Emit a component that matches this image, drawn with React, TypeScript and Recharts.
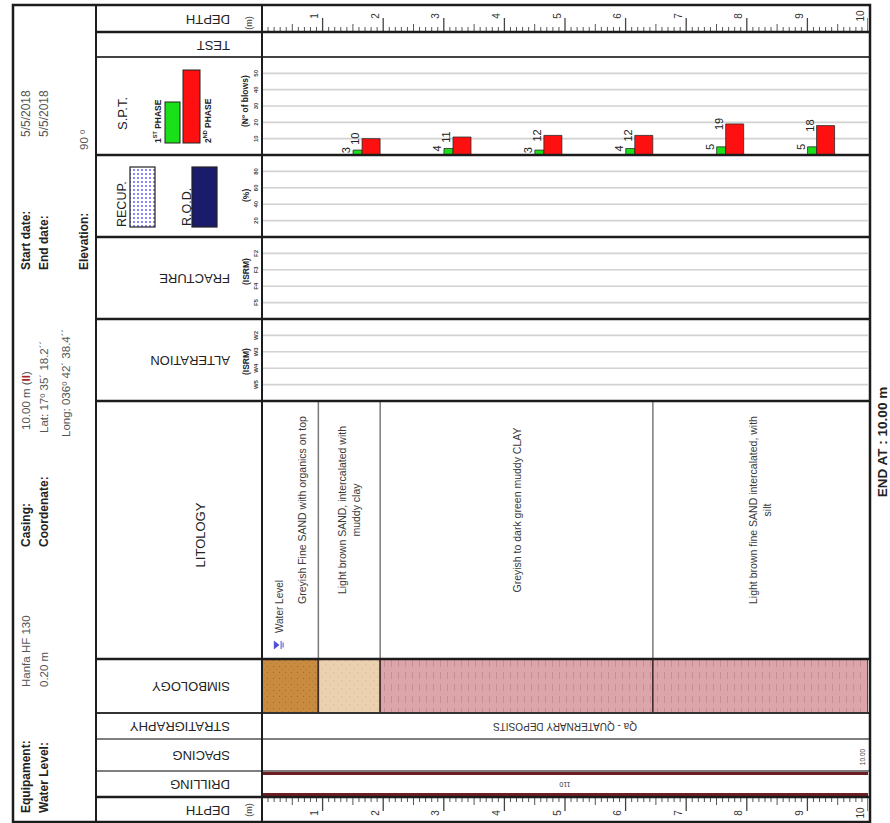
import React from 'react';
import {
  ComposedChart,
  Bar,
  XAxis,
  YAxis,
  CartesianGrid,
  ReferenceArea,
  ReferenceLine,
  LabelList
} from 'recharts';

const FONT = '"Liberation Sans", Arial, Helvetica, sans-serif';

// depth scale (m)
const depthRange = [0, 10];
const depthTicks = Array.from({ length: 101 }, (_, i) => i / 10);

// SPT tests: start depth, blows 1st phase (15 cm), blows 2nd phase (30 cm)
const sptStart = [1.5, 3.0, 4.5, 6.0, 7.5, 9.0];
const sptPhase1 = [3, 4, 3, 4, 5, 5];
const sptPhase2 = [10, 11, 12, 12, 19, 18];
const sptLength = 0.45;
const sptTicks = [10, 20, 30, 40, 50];

const rqdTicks = [20, 40, 60, 80];
const isrmTicks = [1, 2, 3, 4];
const fractureClasses = ['F5', 'F4', 'F3', 'F2'];
const alterationClasses = ['W5', 'W4', 'W3', 'W2'];

// lithology
const layerFrom = [0, 0.93, 1.95, 6.45];
const layerTo = [0.93, 1.95, 6.45, 10];
const layerDescription = [
  ['Greyish Fine SAND with organics on top'],
  ['Light brown SAND, intercalated with', 'muddy clay'],
  ['Greyish to dark green muddy CLAY'],
  ['Light brown fine SAND intercalated, with', 'silt'],
];
const layerSymbol = ['brownSand', 'lightSand', 'clay', 'clay'];

const waterLevel = 0.2;
const stratUnit = 'Qa - QUATERNARY DEPOSITS';
const spacingDepth = 10;
const spacingLabel = '10.00';
const drillFrom = 0;
const drillTo = 10;
const drillDiameter = '110';
const endDepth = 10;

const sptRows = sptStart.map((d, i) => ({
  depth: d + sptLength / 2,
  phase1: sptPhase1[i],
  phase2: sptPhase2[i],
}));

const PX = 262;
const PW = 606;
const AW = 14;
const noMargin = { top: 0, right: 0, bottom: 0, left: 0 };
const layerLabelShift = [12, 0, 0, 0];

const AxisTick = ({ x, y, payload, fmt }: any) => (
  <text
    x={x - 6}
    y={y}
    transform={`rotate(-90 ${x - 6} ${y})`}
    textAnchor="middle"
    dominantBaseline="central"
    fontSize={6}
    fontWeight="bold"
    fill="#444"
    fontFamily={FONT}
  >
    {fmt(payload.value)}
  </text>
);

const DepthTick = ({ x, y, payload, dir }: any) => {
  const k = Math.round(payload.value * 10);
  const major = k % 10 === 0;
  const half = k % 5 === 0;
  const len = major ? 14 : half ? 8 : 5;
  const lx = x - 8;
  const ly = y + dir * 16;
  return (
    <g>
      <line x1={x} x2={x} y1={y} y2={y + dir * len} stroke="#444" strokeWidth={major ? 1.3 : 0.9} />
      {major && k > 0 && (
        <text
          x={lx}
          y={ly}
          transform={`rotate(-90 ${lx} ${ly})`}
          textAnchor="middle"
          dominantBaseline="central"
          fontSize={10}
          fill="#333"
          fontFamily={FONT}
        >
          {k / 10}
        </text>
      )}
    </g>
  );
};

const BarValue = (props: any) => {
  const { x, y, value } = props;
  const cx = x - 7;
  return (
    <text
      x={cx}
      y={y}
      transform={`rotate(-90 ${cx} ${y})`}
      textAnchor="middle"
      dominantBaseline="central"
      fontSize={11}
      fill="#222"
      fontFamily={FONT}
    >
      {value}
    </text>
  );
};

const LayerLabel = ({ viewBox, lines, shift }: any) => {
  const cx = viewBox.x + viewBox.width / 2 + shift;
  const cy = viewBox.y + viewBox.height / 2 - 20;
  return (
    <g>
      {lines.map((t: string, j: number) => {
        const lx = cx + (j - (lines.length - 1) / 2) * 14;
        return (
          <text
            key={j}
            x={lx}
            y={cy}
            transform={`rotate(-90 ${lx} ${cy})`}
            textAnchor="middle"
            dominantBaseline="central"
            fontSize={10.5}
            fill="#3a3a3a"
            fontFamily={FONT}
          >
            {t}
          </text>
        );
      })}
    </g>
  );
};

const WaterLabel = ({ viewBox }: any) => {
  const x = viewBox.x + 5;
  const y = viewBox.y + viewBox.height - 14;
  return (
    <g>
      <g transform={`translate(${x} ${y}) rotate(-90)`} stroke="#4b4bd8" fill="#4b4bd8">
        <polygon points="-4,-5 4,-5 0,0" strokeWidth={0.5} />
        <line x1={-4} x2={4} y1={2} y2={2} strokeWidth={1} />
        <line x1={-2.5} x2={2.5} y1={4} y2={4} strokeWidth={1} />
      </g>
      <text
        x={x}
        y={y - 12}
        transform={`rotate(-90 ${x} ${y - 12})`}
        textAnchor="start"
        dominantBaseline="central"
        fontSize={10}
        fill="#3a3a3a"
        fontFamily={FONT}
      >
        Water Level
      </text>
    </g>
  );
};

const FlipLabel = ({ viewBox, text, size }: any) => {
  const cx = viewBox.x + viewBox.width / 2;
  const cy = viewBox.y + viewBox.height / 2;
  return (
    <text
      x={cx}
      y={cy}
      transform={`rotate(180 ${cx} ${cy})`}
      textAnchor="middle"
      dominantBaseline="central"
      fontSize={size}
      fill="#333"
      fontFamily={FONT}
    >
      {text}
    </text>
  );
};

const SpacingLabel = ({ viewBox }: any) => {
  const x = viewBox.x - 6;
  const y = viewBox.y + viewBox.height / 2 + 2;
  return (
    <text
      x={x}
      y={y}
      transform={`rotate(-90 ${x} ${y})`}
      textAnchor="middle"
      dominantBaseline="central"
      fontSize={6.5}
      fill="#444"
      fontFamily={FONT}
    >
      {spacingLabel}
    </text>
  );
};

type RowProps = {
  top: number;
  height: number;
  yDomain: number[];
  yTicks?: number[];
  tickText?: (v: number) => string;
  children?: React.ReactNode;
};

const Row = ({ top, height, yDomain, yTicks, tickText, children }: RowProps) => (
  <div style={{ position: 'absolute', left: PX - AW, top }}>
    <ComposedChart width={PW + AW} height={height} data={sptRows} margin={noMargin} barGap={0}>
      <XAxis dataKey="depth" type="number" domain={depthRange} hide allowDataOverflow />
      <YAxis
        type="number"
        domain={yDomain}
        ticks={yTicks}
        interval={0}
        width={AW}
        axisLine={false}
        tickLine={false}
        tickSize={0}
        tickMargin={0}
        allowDataOverflow
        tick={tickText ? (p: any) => <AxisTick {...p} fmt={tickText} /> : false}
      />
      {yTicks && <CartesianGrid vertical={false} stroke="#d2d2d2" strokeWidth={1.6} />}
      {children}
    </ComposedChart>
  </div>
);

const DepthRuler = ({ top, side }: { top: number; side: 'top' | 'bottom' }) => (
  <div style={{ position: 'absolute', left: PX, top }}>
    <ComposedChart width={PW} height={27} data={sptRows} margin={noMargin}>
      <XAxis
        dataKey="depth"
        type="number"
        domain={depthRange}
        ticks={depthTicks}
        interval={0}
        orientation={side}
        height={26}
        axisLine={false}
        tickLine={false}
        tickSize={0}
        tickMargin={0}
        allowDataOverflow
        tick={(p: any) => <DepthTick {...p} dir={side === 'top' ? -1 : 1} />}
      />
      <YAxis hide />
    </ComposedChart>
  </div>
);

const PatternDefs = () => (
  <svg width={0} height={0} style={{ position: 'absolute' }}>
    <defs>
      <pattern id="brownSand" width={6} height={6} patternUnits="userSpaceOnUse">
        <rect width={6} height={6} fill="#c98b40" />
        <circle cx={1.5} cy={1.5} r={0.6} fill="#9a6428" />
        <circle cx={4.5} cy={4.5} r={0.6} fill="#b47a34" />
      </pattern>
      <pattern id="lightSand" width={8} height={8} patternUnits="userSpaceOnUse">
        <rect width={8} height={8} fill="#ebd1b0" />
        <line x1={2} x2={2} y1={1} y2={3} stroke="#d3b591" strokeWidth={0.7} />
        <line x1={6} x2={6} y1={5} y2={7} stroke="#d3b591" strokeWidth={0.7} />
      </pattern>
      <pattern id="clay" width={7} height={12} patternUnits="userSpaceOnUse">
        <rect width={7} height={12} fill="#dca5a9" />
        <line x1={3.5} x2={3.5} y1={1} y2={8} stroke="#c28890" strokeWidth={0.8} />
      </pattern>
      <pattern id="recupDots" width={4} height={4} patternUnits="userSpaceOnUse">
        <rect width={4} height={4} fill="#ffffff" />
        <circle cx={2} cy={2} r={0.9} fill="#5050f0" />
      </pattern>
    </defs>
  </svg>
);

const up = (x: number, y: number, t: React.ReactNode, o: any = {}) => (
  <text
    x={x}
    y={y}
    transform={`rotate(-90 ${x} ${y})`}
    textAnchor={o.anchor || 'start'}
    dominantBaseline="central"
    fontSize={o.size || 12}
    fontWeight={o.bold ? 'bold' : 'normal'}
    fill={o.color || '#222'}
  >
    {t}
  </text>
);

const flip = (y: number, t: string) => (
  <text
    x={230}
    y={y}
    transform={`rotate(180 230 ${y})`}
    textAnchor="start"
    dominantBaseline="central"
    fontSize={13}
    fill="#222"
  >
    {t}
  </text>
);

const rowLines: [number, number, string][] = [
  [32, 2.5, '#1c1c1c'],
  [57, 2, '#444'],
  [155, 2.5, '#1c1c1c'],
  [237, 2.5, '#1c1c1c'],
  [319, 2.5, '#1c1c1c'],
  [401, 2.5, '#1c1c1c'],
  [659, 2.5, '#1c1c1c'],
  [713, 2, '#333'],
  [739, 1.5, '#555'],
  [771, 1.5, '#555'],
  [797, 2.5, '#1c1c1c'],
];

const Frame = () => (
  <svg
    width={890}
    height={823}
    style={{ position: 'absolute', left: 0, top: 0, pointerEvents: 'none' }}
    fontFamily={FONT}
  >
    {rowLines.map(([y, w, c]) => (
      <line key={y} x1={96} x2={870} y1={y} y2={y} stroke={c} strokeWidth={w} />
    ))}
    <line x1={96} x2={96} y1={5} y2={822} stroke="#1c1c1c" strokeWidth={2} />
    <line x1={262} x2={262} y1={5} y2={822} stroke="#1c1c1c" strokeWidth={2} />
    <rect x={13} y={5} width={857} height={817} fill="none" stroke="#1c1c1c" strokeWidth={2.5} />

    {/* info panel */}
    {up(26, 813, 'Equipament:', { bold: true })}
    {up(26, 687, 'Hanfa HF 130', { size: 11.5, color: '#555' })}
    {up(26, 547, 'Casing:', { bold: true })}
    {up(26, 430, <>10.00 m (<tspan fill="#a3262a" fontWeight="bold">II</tspan>)</>, { size: 11.5, color: '#555' })}
    {up(26, 270, 'Start date:', { bold: true })}
    {up(26, 137, '5/5/2018', { size: 12, color: '#555' })}
    {up(44, 813, 'Water Level:', { bold: true })}
    {up(44, 687, '0.20 m', { size: 11.5, color: '#555' })}
    {up(44, 547, 'Coordenate:', { bold: true })}
    {up(44, 433, 'Lat:  17º 35´ 18.2´´', { size: 11.5, color: '#555' })}
    {up(44, 270, 'End date:', { bold: true })}
    {up(44, 137, '5/5/2018', { size: 12, color: '#555' })}
    {up(66, 437, 'Long: 036º 42´ 38.4´´', { size: 11.5, color: '#555' })}
    {up(84, 270, 'Elevation:', { bold: true })}
    {up(84, 150, '90 º', { size: 11.5, color: '#555' })}

    {/* column headers */}
    {flip(19, 'DEPTH')}
    {up(249, 23, '(m)', { size: 9, anchor: 'middle', color: '#333' })}
    {flip(45, 'TEST')}

    {up(122, 130, 'S.P.T.', { size: 13 })}
    <rect x={165} y={102} width={15} height={41} fill="#19e019" stroke="#222" strokeWidth={1} />
    <rect x={183} y={70} width={17} height={73} fill="#ff1010" stroke="#222" strokeWidth={1} />
    {up(158, 143, <>1<tspan fontSize={5.5} dy={-3}>ST</tspan><tspan dy={3}> PHASE</tspan></>, { size: 8.5, bold: true })}
    {up(208, 143, <>2<tspan fontSize={5.5} dy={-3}>ND</tspan><tspan dy={3}> PHASE</tspan></>, { size: 8.5, bold: true })}
    {up(245, 127, '(Nº of blows)', { size: 8.5, bold: true })}

    {up(122, 227, 'RECUP.', { size: 12.5 })}
    <rect x={130} y={167} width={25} height={60} fill="url(#recupDots)" stroke="#222" strokeWidth={1.2} />
    {up(187, 226, 'R.Q.D.', { size: 12.5 })}
    <rect x={192} y={167} width={25} height={60} fill="#1b1b6b" stroke="#222" strokeWidth={1.2} />
    {up(246, 202, '(%)', { size: 8.5, bold: true })}

    {flip(278, 'FRACTURE')}
    {up(246, 285, '(ISRM)', { size: 8.5, bold: true })}
    {flip(360, 'ALTERATION')}
    {up(246, 375, '(ISRM)', { size: 8.5, bold: true })}

    {up(200, 535, 'LITOLOGY', { size: 13, anchor: 'middle' })}
    {flip(686, 'SIMBOLOGY')}
    {flip(726, 'STRATIGRAPHY')}
    {flip(755, 'SPACING')}
    {flip(784, 'DRILLING')}
    {flip(810, 'DEPTH')}
    {up(249, 810, '(m)', { size: 9, anchor: 'middle', color: '#333' })}

    {up(882, 442, `END AT : ${endDepth.toFixed(2)} m`, { size: 13.5, bold: true, anchor: 'middle' })}
  </svg>
);

export default function App() {
  return (
    <div
      style={{
        position: 'absolute',
        left: 0,
        top: 0,
        width: 890,
        height: 823,
        background: '#ffffff',
        fontFamily: FONT,
        overflow: 'hidden',
      }}
    >
      <PatternDefs />
      <DepthRuler top={6} side="top" />

      {/* S.P.T. */}
      <Row top={57} height={98} yDomain={[0, 60]} yTicks={sptTicks} tickText={(v) => String(v)}>
        <Bar dataKey="phase1" barSize={9} fill="#19e019" stroke="#2a2a2a" strokeWidth={0.8} isAnimationActive={false}>
          <LabelList dataKey="phase1" content={BarValue} />
        </Bar>
        <Bar dataKey="phase2" barSize={18} fill="#ff1010" stroke="#2a2a2a" strokeWidth={0.8} isAnimationActive={false}>
          <LabelList dataKey="phase2" content={BarValue} />
        </Bar>
      </Row>

      {/* RECUP / RQD */}
      <Row top={155} height={82} yDomain={[0, 100]} yTicks={rqdTicks} tickText={(v) => String(v)} />

      {/* FRACTURE */}
      <Row top={237} height={82} yDomain={[0, 5]} yTicks={isrmTicks} tickText={(v) => fractureClasses[v - 1]} />

      {/* ALTERATION */}
      <Row top={319} height={82} yDomain={[0, 5]} yTicks={isrmTicks} tickText={(v) => alterationClasses[v - 1]} />

      {/* LITOLOGY */}
      <Row top={401} height={258} yDomain={[0, 1]}>
        {layerFrom.slice(1).map((d) => (
          <ReferenceLine key={d} x={d} stroke="#7a7a7a" strokeWidth={1.5} />
        ))}
        {layerFrom.map((d, i) => (
          <ReferenceArea
            key={`l${i}`}
            x1={d}
            x2={layerTo[i]}
            fillOpacity={0}
            strokeOpacity={0}
            label={(p: any) => (
              <LayerLabel viewBox={p.viewBox || p} lines={layerDescription[i]} shift={layerLabelShift[i]} />
            )}
          />
        ))}
        <ReferenceLine x={waterLevel} strokeOpacity={0} label={(p: any) => <WaterLabel viewBox={p.viewBox || p} />} />
      </Row>

      {/* SIMBOLOGY */}
      <Row top={659} height={54} yDomain={[0, 1]}>
        {layerFrom.map((d, i) => (
          <ReferenceArea
            key={`s${i}`}
            x1={d}
            x2={layerTo[i]}
            fill={`url(#${layerSymbol[i]})`}
            fillOpacity={1}
            stroke="#3d2a2a"
            strokeWidth={1.5}
          />
        ))}
      </Row>

      {/* STRATIGRAPHY */}
      <Row top={713} height={26} yDomain={[0, 1]}>
        <ReferenceArea
          x1={depthRange[0]}
          x2={depthRange[1]}
          fillOpacity={0}
          strokeOpacity={0}
          label={(p: any) => <FlipLabel viewBox={p.viewBox || p} text={stratUnit} size={10} />}
        />
      </Row>

      {/* SPACING */}
      <Row top={739} height={32} yDomain={[0, 1]}>
        <ReferenceLine x={spacingDepth} strokeOpacity={0} label={(p: any) => <SpacingLabel viewBox={p.viewBox || p} />} />
      </Row>

      {/* DRILLING */}
      <Row top={771} height={26} yDomain={[0, 1]}>
        <ReferenceLine segment={[{ x: drillFrom, y: 0.9 }, { x: drillTo, y: 0.9 }]} stroke="#6e1d22" strokeWidth={3} />
        <ReferenceLine segment={[{ x: drillFrom, y: 0.1 }, { x: drillTo, y: 0.1 }]} stroke="#6e1d22" strokeWidth={3} />
        <ReferenceArea
          x1={drillFrom}
          x2={drillTo}
          fillOpacity={0}
          strokeOpacity={0}
          label={(p: any) => <FlipLabel viewBox={p.viewBox || p} text={drillDiameter} size={7} />}
        />
      </Row>

      <DepthRuler top={796} side="bottom" />
      <Frame />
    </div>
  );
}
